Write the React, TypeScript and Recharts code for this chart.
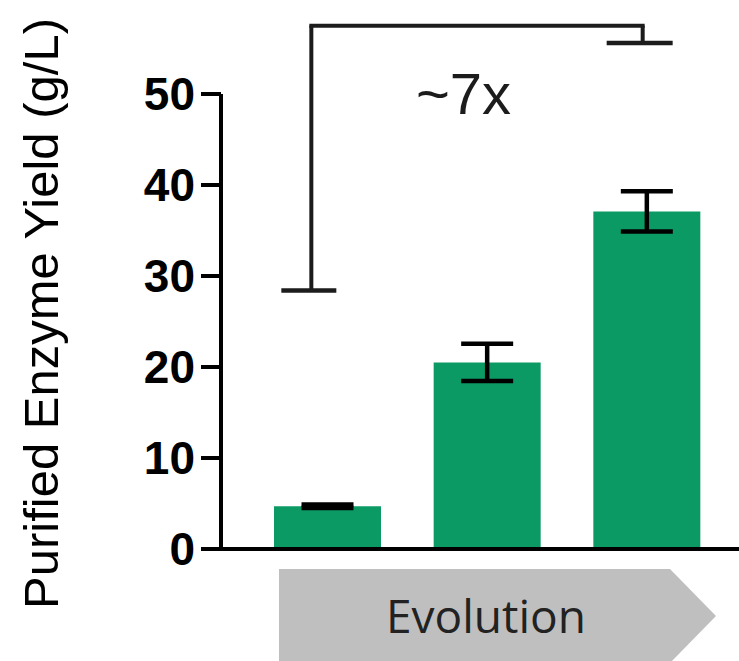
import React from "react";
import { BarChart, Bar, XAxis, YAxis, ErrorBar, ReferenceLine } from "recharts";

const categories = ["Parent", "Round 1", "Round 2"];
const yieldMeans = [4.7, 20.5, 37.1];
const yieldErrors = [0.2, 2.05, 2.2];
const yTicks = [0, 10, 20, 30, 40, 50];

// comparison bracket, in g/L
const bracketTop = 57.5;
const bracketLeftEnd = 28.4;
const bracketRightEnd = 55.6;
const foldLabel = "~7x";
const axisTitle = "Purified Enzyme Yield (g/L)";
const arrowLabel = "Evolution";

const GREEN = "#0c9a64";
const INK = "#1c1c1c";
const SANS = "'Liberation Sans', Arial, sans-serif";

const data = categories.map((name, i) => ({
  name,
  mean: yieldMeans[i],
  err: yieldErrors[i],
}));

function dropShape(dx: number, capHalf: number, capDx: number) {
  return (p: any) => (
    <g>
      <line x1={p.x1 + dx} y1={p.y1} x2={p.x2 + dx} y2={p.y2} stroke={INK} strokeWidth={4} />
      <line
        x1={p.x2 + dx + capDx - capHalf}
        y1={p.y2}
        x2={p.x2 + dx + capDx + capHalf}
        y2={p.y2}
        stroke={INK}
        strokeWidth={4.5}
      />
    </g>
  );
}

function topShape(p: any) {
  return (
    <g>
      <line x1={p.x1 - 18.5} y1={p.y1} x2={p.x2 - 2.5} y2={p.y2} stroke={INK} strokeWidth={4} />
      <text
        x={(p.x1 + p.x2) / 2 - 24}
        y={p.y1 + 88}
        textAnchor="middle"
        fontSize={58}
        fontFamily={SANS}
        fill={INK}
      >
        {foldLabel}
      </text>
    </g>
  );
}

function renderYTitle(props: any) {
  const vb = props.viewBox;
  const cx = 58;
  const cy = vb.y + vb.height / 2 - 8;
  return (
    <text
      x={cx}
      y={cy}
      transform={`rotate(-90, ${cx}, ${cy})`}
      textAnchor="middle"
      fontSize={49}
      fontFamily={SANS}
      fill="#000"
    >
      {axisTitle}
    </text>
  );
}

function renderArrow(props: any) {
  const vb = props.viewBox;
  const left = vb.x + 58;
  const body = vb.x + 449;
  const tip = vb.x + 495;
  const top = vb.y + 20;
  const mid = vb.y + 67;
  const bottom = vb.y + 114;
  return (
    <g>
      <polygon
        points={`${left},${top} ${body},${top} ${tip},${mid} ${body},${bottom} ${left},${bottom}`}
        fill="#bfbfbf"
      />
      <text
        x={vb.x + 265}
        y={vb.y + 84}
        textAnchor="middle"
        fontSize={46}
        fontFamily="'Open Sans', sans-serif"
        fill="#222"
      >
        {arrowLabel}
      </text>
    </g>
  );
}

export default function App() {
  return (
    <div style={{ position: "absolute", left: 0, top: 0, background: "#fff" }}>
      <BarChart
        width={739}
        height={661}
        data={data}
        margin={{ top: 94, right: 0, bottom: 0, left: 0 }}
      >
        <XAxis
          dataKey="name"
          tick={false}
          tickLine={false}
          axisLine={{ stroke: "#000", strokeWidth: 4 }}
          height={112}
          padding={{ left: 27, right: 12 }}
          label={renderArrow}
        />
        <YAxis
          width={221}
          domain={[0, 50]}
          ticks={yTicks}
          interval={0}
          tickSize={20}
          tickMargin={6}
          axisLine={{ stroke: "#000", strokeWidth: 4 }}
          tickLine={{ stroke: "#000", strokeWidth: 4 }}
          tick={{ fill: "#000", fontSize: 46, fontWeight: 700, fontFamily: SANS }}
          label={renderYTitle}
        />
        <Bar dataKey="mean" fill={GREEN} barSize={107} isAnimationActive={false}>
          <ErrorBar
            dataKey="err"
            direction="y"
            width={26}
            stroke="#000"
            strokeWidth={4.5}
            isAnimationActive={false}
          />
        </Bar>
        <ReferenceLine
          segment={[
            { x: categories[0], y: bracketTop },
            { x: categories[2], y: bracketTop },
          ]}
          ifOverflow="visible"
          shape={topShape}
        />
        <ReferenceLine
          segment={[
            { x: categories[0], y: bracketTop },
            { x: categories[0], y: bracketLeftEnd },
          ]}
          ifOverflow="visible"
          shape={dropShape(-16.5, 27.5, -2.5)}
        />
        <ReferenceLine
          segment={[
            { x: categories[2], y: bracketTop },
            { x: categories[2], y: bracketRightEnd },
          ]}
          ifOverflow="visible"
          shape={dropShape(-4.5, 33, -3)}
        />
      </BarChart>
    </div>
  );
}
